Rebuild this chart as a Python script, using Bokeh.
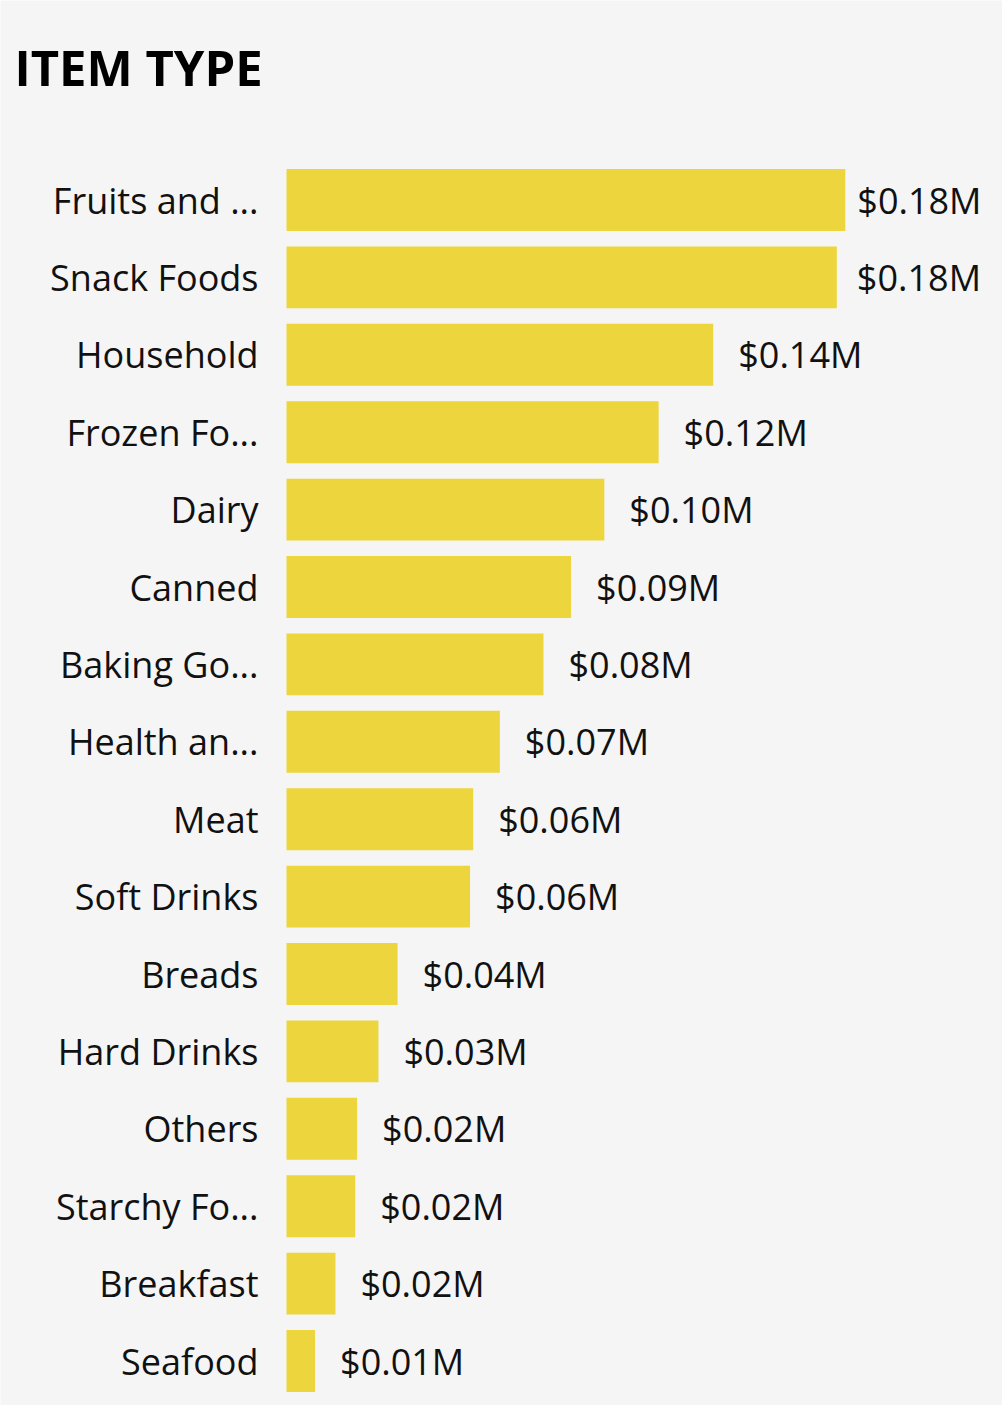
from bokeh.plotting import figure
from bokeh.models import ColumnDataSource, Range1d
from bokeh.core.properties import value
from bokeh.embed import file_html
from bokeh.resources import INLINE

title_text = "ITEM TYPE"
categories = ["Fruits and ...", "Snack Foods", "Household", "Frozen Fo...", "Dairy",
              "Canned", "Baking Go...", "Health an...", "Meat", "Soft Drinks",
              "Breads", "Hard Drinks", "Others", "Starchy Fo...", "Breakfast", "Seafood"]
sales = [178100, 175400, 136000, 118600, 101300, 90700, 81900, 68000,
         59500, 58500, 35400, 29300, 22500, 21900, 15600, 9100]
label_offsets = [12, 20, 25, 25, 25, 25, 25, 25, 25, 25, 25, 25, 25, 25, 25, 25]

labels = ["$%.2fM" % (v / 1e6) for v in sales]
pos = list(range(len(categories)))
src = ColumnDataSource(dict(pos=pos, cat=categories, val=sales, lab=labels,
                            off=label_offsets, zero=[0] * len(pos)))

FONT = "Open Sans"
BG = "#F5F5F5"
W, H = 1002, 1405

# layout in pixels
left_px, top_px, pitch_px = 286, 199.5, 77.4
x_max = 228200
px_val = x_max / (W - left_px)
n = len(categories)
y_top = -top_px / pitch_px
y_bottom = (n - 1) + (H - (top_px + (n - 1) * pitch_px)) / pitch_px

p = figure(width=W, height=H, output_backend="svg", toolbar_location=None, tools="",
           x_range=Range1d(-left_px * px_val, x_max), y_range=Range1d(y_bottom, y_top),
           x_axis_location=None, y_axis_location=None,
           min_border_left=0, min_border_right=0, min_border_top=0, min_border_bottom=0,
           background_fill_color=BG, border_fill_color=BG, outline_line_color=None)
p.xgrid.visible = False
p.ygrid.visible = False

p.hbar(y="pos", right="val", left=0, height=0.8, source=src,
       fill_color="#EDD53D", line_color=None)

# value labels
p.text(x="val", y="pos", text="lab", x_offset="off", source=src,
       text_align="left", text_baseline="middle", text_font=value(FONT),
       text_font_size="36px", text_color="#111111")

# category labels
p.text(x="zero", y="pos", text="cat", x_offset=-28, source=src,
       text_align="right", text_baseline="middle", text_font=value(FONT),
       text_font_size="36px", text_color="#111111")

# title
p.text(x=[0], y=[0], text=[title_text], x_offset=-272, y_offset=-133,
       text_align="left", text_baseline="alphabetic", text_font=value(FONT),
       text_font_size="49px", text_font_style="bold", text_color="#000000")

open("out.html", "w").write(file_html(p, INLINE))
